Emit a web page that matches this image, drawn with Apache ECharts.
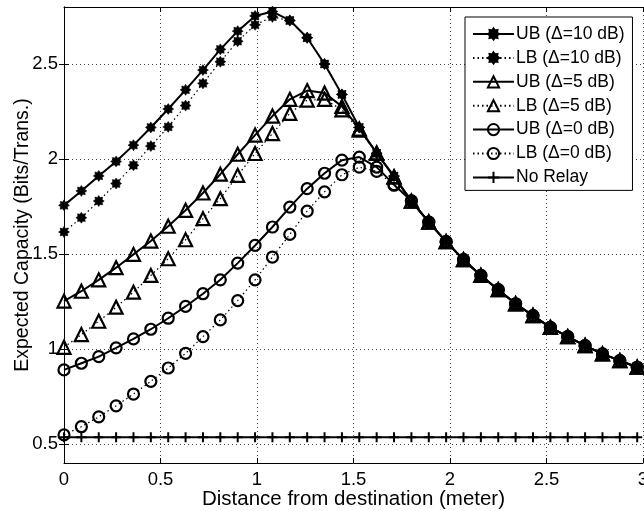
<!DOCTYPE html>
<html>
<head>
<meta charset="utf-8">
<script src="https://cdn.jsdelivr.net/npm/echarts@6/dist/echarts.min.js"></script>
<style>
html,body{margin:0;padding:0;background:#fff;}
#chart{width:644px;height:511px;}
</style>
</head>
<body>
<div id="chart"></div>
<script>
// ---- data ----
const distance = [0, 0.09, 0.18, 0.27, 0.36, 0.45, 0.54, 0.63, 0.72, 0.81, 0.90, 0.99, 1.08, 1.17, 1.26, 1.35, 1.44,
  1.53, 1.62, 1.71, 1.80, 1.89, 1.98, 2.07, 2.16, 2.25, 2.34, 2.43, 2.52, 2.61, 2.70, 2.79, 2.88, 2.97];

const ub10 = [1.756, 1.832, 1.911, 1.987, 2.073, 2.166, 2.263, 2.364, 2.468, 2.577, 2.673, 2.753, 2.776, 2.730, 2.638, 2.500, 2.340,
  2.166, 2.030, 1.910, 1.778, 1.668, 1.565, 1.470, 1.387, 1.312, 1.238, 1.176, 1.114, 1.065, 1.018, 0.974, 0.939, 0.904];
const lb10 = [1.616, 1.691, 1.779, 1.871, 1.967, 2.068, 2.169, 2.281, 2.398, 2.512, 2.620, 2.706, 2.748, 2.728, 2.638, 2.500, 2.340,
  2.166, 2.030, 1.910, 1.778, 1.668, 1.565, 1.470, 1.387, 1.312, 1.238, 1.176, 1.114, 1.065, 1.018, 0.974, 0.939, 0.904];
const ub5 = [1.252, 1.304, 1.364, 1.428, 1.498, 1.568, 1.646, 1.730, 1.821, 1.920, 2.025, 2.126, 2.226, 2.314, 2.360, 2.347, 2.277,
  2.158, 2.032, 1.906, 1.778, 1.668, 1.565, 1.470, 1.387, 1.312, 1.238, 1.176, 1.114, 1.065, 1.018, 0.974, 0.939, 0.904];
const lb5 = [1.009, 1.076, 1.146, 1.220, 1.299, 1.387, 1.475, 1.575, 1.686, 1.791, 1.914, 2.029, 2.134, 2.240, 2.310, 2.314, 2.259,
  2.152, 2.030, 1.906, 1.778, 1.668, 1.565, 1.470, 1.387, 1.312, 1.238, 1.176, 1.114, 1.065, 1.018, 0.974, 0.939, 0.904];
const ub0 = [0.890, 0.925, 0.960, 1.006, 1.053, 1.104, 1.162, 1.224, 1.291, 1.364, 1.452, 1.545, 1.642, 1.747, 1.844, 1.925, 1.994,
  2.010, 1.957, 1.865, 1.780, 1.668, 1.565, 1.470, 1.387, 1.312, 1.238, 1.176, 1.114, 1.065, 1.018, 0.974, 0.939, 0.904];
const lb0 = [0.548, 0.591, 0.643, 0.701, 0.763, 0.830, 0.900, 0.977, 1.065, 1.153, 1.255, 1.364, 1.484, 1.603, 1.726, 1.827, 1.917,
  1.957, 1.935, 1.862, 1.780, 1.668, 1.565, 1.470, 1.387, 1.312, 1.238, 1.176, 1.114, 1.065, 1.018, 0.974, 0.939, 0.904];
const noRelay = [0.535, 0.535, 0.535, 0.535, 0.535, 0.535, 0.535, 0.535, 0.535, 0.535, 0.535, 0.535, 0.535, 0.535, 0.535, 0.535, 0.535,
  0.535, 0.535, 0.535, 0.535, 0.535, 0.535, 0.535, 0.535, 0.535, 0.535, 0.535, 0.535, 0.535, 0.535, 0.535, 0.535, 0.535];

const seriesNames = ['UB (\u0394=10 dB)', 'LB (\u0394=10 dB)', 'UB (\u0394=5 dB)', 'LB (\u0394=5 dB)',
  'UB (\u0394=0 dB)', 'LB (\u0394=0 dB)', 'No Relay'];
const xTicks = [0, 0.5, 1, 1.5, 2, 2.5, 3];
const yTicks = [0.5, 1, 1.5, 2, 2.5];

// ---- styling helpers ----
function starPath() {
  const pts = [];
  const n = 8;
  for (let i = 0; i < 2 * n; i++) {
    const r = i % 2 === 0 ? 10 : 6.8;
    const a = Math.PI * i / n - Math.PI / 2;
    pts.push((r * Math.cos(a)).toFixed(2) + ',' + (r * Math.sin(a)).toFixed(2));
  }
  return 'path://M' + pts.join(' L') + ' Z';
}
const STAR = starPath();
const PLUS = 'path://M0,-10 L0,10 M-10,0 L10,0';
const FONT = 'Liberation Sans';

function pairs(ys) { return distance.map((x, i) => [x, ys[i]]); }

function mk(name, ys, kind, dotted) {
  const s = {
    name: name,
    type: 'line',
    data: pairs(ys),
    smooth: false,
    showAllSymbol: true,
    animation: false,
    lineStyle: { color: '#000', width: dotted ? 1.2 : 2, type: dotted ? [1.5, 3] : 'solid' },
  };
  if (kind === 'star') {
    s.symbol = STAR; s.symbolSize = 11;
    s.itemStyle = { color: '#000', borderColor: '#000', borderWidth: 0.5 };
  } else if (kind === 'tri') {
    s.symbol = 'triangle'; s.symbolSize = 13;
    s.itemStyle = { color: 'rgba(0,0,0,0)', borderColor: '#000', borderWidth: 2.2 };
  } else if (kind === 'circ') {
    s.symbol = 'circle'; s.symbolSize = 11;
    s.itemStyle = { color: 'rgba(0,0,0,0)', borderColor: '#000', borderWidth: 2.2 };
  } else {
    s.symbol = PLUS; s.symbolSize = 10;
    s.itemStyle = { color: 'rgba(0,0,0,0)', borderColor: '#000', borderWidth: 2 };
  }
  return s;
}

const chart = echarts.init(document.getElementById('chart'), null, { renderer: 'canvas' });

const gridLine = { show: true, lineStyle: { color: '#444', width: 1, type: [1, 3] } };

chart.setOption({
  backgroundColor: '#fff',
  animation: false,
  textStyle: { fontFamily: FONT },
  grid: { left: 64, right: 1, top: 7, bottom: 48, containLabel: false, outerBoundsMode: 'none' },
  legend: {
    orient: 'vertical',
    left: 465,
    top: 17,
    padding: [8, 8, 4, 7],
    itemGap: 5.9,
    itemWidth: 41,
    itemHeight: 14,
    borderColor: '#000',
    borderWidth: 1,
    backgroundColor: '#fff',
    textStyle: { fontFamily: FONT, fontSize: 17.5, lineHeight: 18, color: '#000', padding: [0, 0, 0, -3] },
    data: seriesNames
  },
  xAxis: [{
    type: 'value', min: 0, max: 3, interval: 0.5,
    name: 'Distance from destination (meter)', nameLocation: 'middle', nameGap: 26, nameMoveOverlap: false,
    nameTextStyle: { fontFamily: FONT, fontSize: 20.5, color: '#000' },
    axisLine: { show: true, lineStyle: { color: '#000', width: 1 } },
    axisTick: { show: true, inside: true, length: 5, lineStyle: { color: '#000' } },
    axisLabel: { fontFamily: FONT, fontSize: 18.5, color: '#000', margin: 7, customValues: xTicks,
      formatter: v => String(v) },
    splitLine: gridLine
  }, {
    type: 'value', min: 0, max: 3, interval: 0.5, position: 'top',
    axisLine: { show: true, lineStyle: { color: '#000', width: 1 } },
    axisTick: { show: true, inside: true, length: 5, lineStyle: { color: '#000' } },
    axisLabel: { show: false },
    splitLine: { show: false }
  }],
  yAxis: [{
    type: 'value', min: 0.4, max: 2.8,
    name: 'Expected Capacity (Bits/Trans.)', nameLocation: 'middle', nameGap: 31, nameMoveOverlap: false,
    nameTextStyle: { fontFamily: FONT, fontSize: 19.5, color: '#000' },
    axisLine: { show: true, lineStyle: { color: '#000', width: 1 } },
    axisTick: { show: true, inside: true, length: 5, lineStyle: { color: '#000' }, customValues: yTicks },
    axisLabel: { fontFamily: FONT, fontSize: 18.5, color: '#000', margin: 6, customValues: yTicks,
      formatter: v => String(v) },
    splitLine: gridLine
  }, {
    type: 'value', min: 0.4, max: 2.8, position: 'right',
    axisLine: { show: true, lineStyle: { color: '#000', width: 1 } },
    axisTick: { show: true, inside: true, length: 5, lineStyle: { color: '#000' }, customValues: yTicks },
    axisLabel: { show: false, customValues: yTicks },
    splitLine: { show: false }
  }],
  series: [
    mk(seriesNames[6], noRelay, 'plus', false),
    mk(seriesNames[5], lb0, 'circ', true),
    mk(seriesNames[4], ub0, 'circ', false),
    mk(seriesNames[3], lb5, 'tri', true),
    mk(seriesNames[2], ub5, 'tri', false),
    mk(seriesNames[1], lb10, 'star', true),
    mk(seriesNames[0], ub10, 'star', false)
  ]
});
</script>
</body>
</html>
